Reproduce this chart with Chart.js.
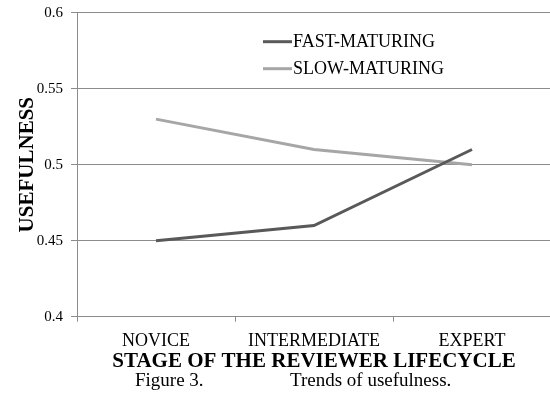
<!DOCTYPE html>
<html lang="en">
<head>
    <meta charset="UTF-8">
    <title>Trends of usefulness</title>
    <script src="https://cdn.jsdelivr.net/npm/chart.js@4.4.1/dist/chart.umd.min.js"></script>
    <style>
        html, body { margin: 0; padding: 0; background: #fff; overflow: hidden; }
        #wrap { position: absolute; left: 0; top: 0; width: 560px; height: 402px; }
        .caption { position: absolute; top: 369px; font-family: 'Liberation Serif', 'Times New Roman', serif; font-size: 19px; color: #000; white-space: nowrap; }
    </style>
</head>
<body>
    <div id="wrap">
        <canvas id="usefulnessChart" width="560" height="402"></canvas>
    </div>
    <span class="caption" style="left:135px">Figure 3.</span>
    <span class="caption" style="left:290px">Trends of usefulness.</span>

    <script>
        const stages = ['NOVICE', 'INTERMEDIATE', 'EXPERT'];
        const fastMaturing = [0.45, 0.46, 0.51];
        const slowMaturing = [0.53, 0.51, 0.50];
        const yTickLabels = ['0.4', '0.45', '0.5', '0.55', '0.6'];

        const serif = "'Liberation Serif', 'Times New Roman', serif";
        const gridGray = '#8c8c8c';

        // legend drawn inside the plot, stacked like the original
        const insideLegend = {
            id: 'insideLegend',
            afterDraw(chart) {
                const ctx = chart.ctx;
                const area = chart.chartArea;
                const x0 = area.left + 186;
                ctx.save();
                ctx.font = '18px ' + serif;
                ctx.textBaseline = 'middle';
                ctx.fillStyle = '#000';
                chart.data.datasets.forEach(function(ds, i) {
                    const y = area.top + 29 + i * 27;
                    ctx.strokeStyle = ds.borderColor;
                    ctx.lineWidth = 3;
                    ctx.beginPath();
                    ctx.moveTo(x0, y);
                    ctx.lineTo(x0 + 29, y);
                    ctx.stroke();
                    ctx.fillText(ds.label, x0 + 30, y + 1);
                });
                ctx.restore();
            }
        };

        new Chart(document.getElementById('usefulnessChart'), {
            type: 'line',
            data: {
                labels: stages,
                datasets: [
                    {
                        label: 'FAST-MATURING',
                        data: fastMaturing,
                        borderColor: '#595959',
                        backgroundColor: '#595959',
                        borderWidth: 3,
                        pointRadius: 0,
                        tension: 0
                    },
                    {
                        label: 'SLOW-MATURING',
                        data: slowMaturing,
                        borderColor: '#a6a6a6',
                        backgroundColor: '#a6a6a6',
                        borderWidth: 3,
                        pointRadius: 0,
                        tension: 0
                    }
                ]
            },
            options: {
                responsive: false,
                animation: false,
                layout: { padding: { top: 12.7, right: 9, bottom: 28, left: 0 } },
                plugins: {
                    legend: { display: false },
                    tooltip: { enabled: false }
                },
                scales: {
                    x: {
                        offset: true,
                        afterFit: function(scale) { scale.height = 57.3; },
                        grid: {
                            offset: true,
                            drawOnChartArea: false,
                            color: gridGray,
                            tickLength: 5
                        },
                        border: { color: gridGray },
                        ticks: {
                            color: '#000',
                            padding: 9,
                            font: { family: serif, size: 18 }
                        },
                        title: {
                            display: true,
                            text: 'STAGE OF THE REVIEWER LIFECYCLE',
                            color: '#000',
                            padding: { top: 0, bottom: 0 },
                            font: { family: serif, size: 21, weight: 'bold' }
                        }
                    },
                    y: {
                        min: 0.4,
                        max: 0.6,
                        afterFit: function(scale) {
                            scale.width = 77;
                            scale.paddingTop = 0;
                            scale.paddingBottom = 0;
                        },
                        grid: { color: gridGray, tickLength: 6 },
                        border: { color: gridGray },
                        ticks: {
                            stepSize: 0.05,
                            color: '#000',
                            padding: 8,
                            font: { family: serif, size: 15 },
                            callback: function(value, index) { return yTickLabels[index]; }
                        },
                        title: {
                            display: true,
                            text: 'USEFULNESS',
                            color: '#000',
                            padding: { top: 15, bottom: 0 },
                            font: { family: serif, size: 21, weight: 'bold' }
                        }
                    }
                }
            },
            plugins: [insideLegend]
        });
    </script>
</body>
</html>
